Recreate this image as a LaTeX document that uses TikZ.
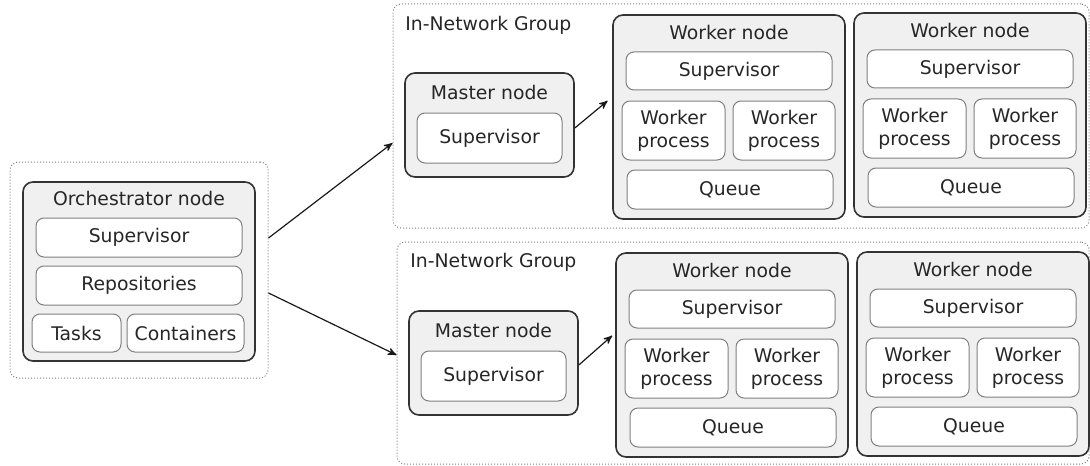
\documentclass[tikz,border=0pt]{standalone}
\usepackage{fontspec}
\setmainfont{DejaVu Sans}
\usetikzlibrary{arrows,fit}

\tikzset{
  group/.style={draw=black!50, densely dotted, line width=0.5pt, rounded corners=4pt, inner sep=0pt},
  machine/.style={draw=black!80, fill=black!6, line width=0.8pt, rounded corners=5pt, inner sep=0pt},
  part/.style={draw=black!50, fill=white, line width=0.5pt, rounded corners=4pt, inner sep=0pt,
    label={[align=center, inner sep=0pt]center:#1}},
  title/.style={inner sep=0pt},
  link/.style={->, line width=0.6pt, black!90}
}

% worker box: name, x, y of upper left corner
\newcommand{\workerbox}[3]{%
  \begin{scope}[shift={(#2,#3)}]
    \node[machine, fit={(0,0) (232,204)}] (#1) {};
    \node[title] (#1-title) at (116,17) {Worker node};
    \node[part=Supervisor, fit={(13,37) (219,75)}] (#1-sup) {};
    \node[part={Worker\\process}, fit={(9,86) (112,145)}] (#1-wp1) {};
    \node[part={Worker\\process}, fit={(120,86) (222,145)}] (#1-wp2) {};
    \node[part=Queue, fit={(14,155) (220,194)}] (#1-queue) {};
  \end{scope}}

% master box: name, x, y of upper left corner
\newcommand{\masterbox}[3]{%
  \begin{scope}[shift={(#2,#3)}]
    \node[machine, fit={(0,0) (169,104)}] (#1) {};
    \node[title] (#1-title) at (84.5,19) {Master node};
    \node[part=Supervisor, fit={(12,40) (157,90)}] (#1-sup) {};
  \end{scope}}

\begin{document}
\begin{tikzpicture}[x=0.5pt, y=-0.5pt, >=stealth', font=\fontsize{9.4}{11.5}\selectfont, color=black!85]
    \useasboundingbox (0,0) rectangle (1090,465);

    % orchestrator
    \node[group, fit={(10,162) (268,378)}] (orchgrp) {};
    \node[machine, fit={(23,182) (255,361)}] (orch) {};
    \node[title] (orch-title) at (139,198) {Orchestrator node};
    \node[part=Supervisor, fit={(36,218) (242,257)}] (orch-sup) {};
    \node[part=Repositories, fit={(36,266) (242,305)}] (orch-repo) {};
    \node[part=Tasks, fit={(32,314) (121,352)}] (orch-tasks) {};
    \node[part=Containers, fit={(127,314) (244,352)}] (orch-cont) {};

    % upper group
    \node[group, fit={(393,4) (1089,228)}] (grpA) {};
    \node[title, anchor=west] (grpA-title) at (405,25) {In-Network Group};
    \masterbox{mA}{405}{73}
    \workerbox{wA1}{613}{15}
    \workerbox{wA2}{854}{13}

    % lower group
    \node[group, fit={(397,242) (1089,464)}] (grpB) {};
    \node[title, anchor=west] (grpB-title) at (410,262) {In-Network Group};
    \masterbox{mB}{409}{311}
    \workerbox{wB1}{616}{253}
    \workerbox{wB2}{857}{252}

    % links
    \draw[link] ([yshift=16pt]orchgrp.east) -- ([yshift=-13.5pt]grpA.west);
    \draw[link] ([yshift=-11.5pt]orchgrp.east) -- ([yshift=-1pt]grpB.west);
    \draw[link, shorten >=3pt] ([yshift=-1.5pt]mA.east) -- ([yshift=10pt]wA1.west);
    \draw[link, shorten >=2pt] ([yshift=-1pt]mB.east) -- ([yshift=11pt]wB1.west);
\end{tikzpicture}
\end{document}
